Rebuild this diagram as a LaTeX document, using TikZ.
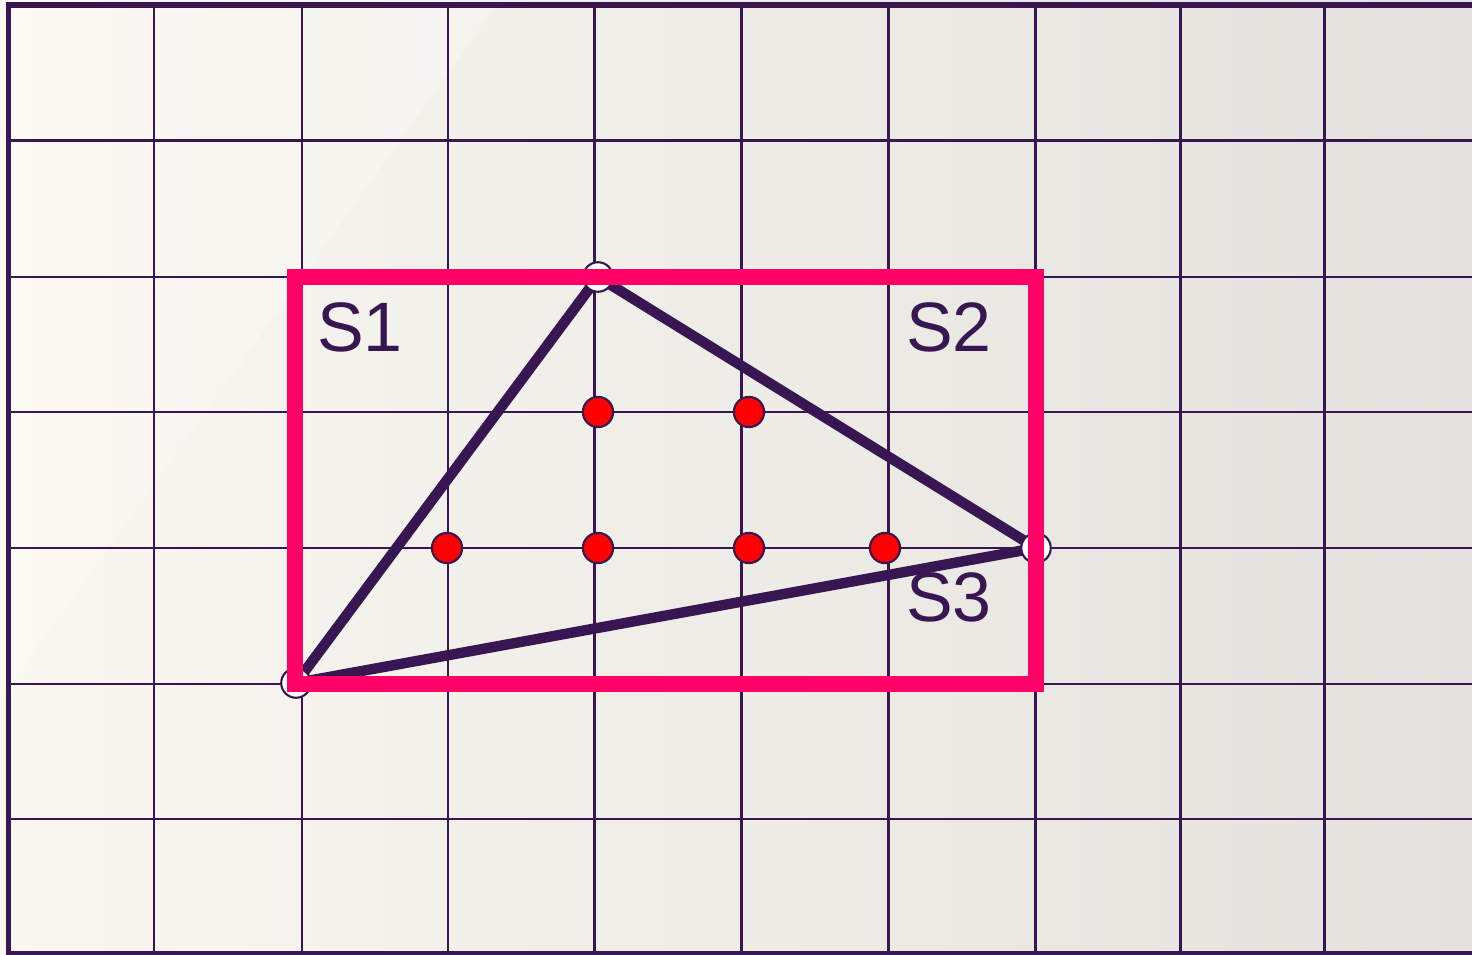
\documentclass[tikz,border=0pt]{standalone}
\usepackage{fontspec}
\setmainfont{Liberation Sans}
\begin{document}
\begin{tikzpicture}[x=0.01cm,y=-0.01cm]
\definecolor{ink}{RGB}{56,22,82}
\definecolor{pinkline}{RGB}{255,0,102}
\definecolor{bgleft}{RGB}{249,247,240}
\definecolor{bgright}{RGB}{227,226,222}
\tikzset{
  gridline/.style={draw=ink,line width=0.85pt},
  frameline/.style={draw=ink,line width=1.45pt},
  triline/.style={draw=ink,line width=2.95pt,line cap=round,line join=round},
  rectline/.style={draw=pinkline,line width=4.3pt},
  vertex/.style={circle,draw=ink,line width=0.6pt,fill=white!97!bgleft,minimum size=8.4pt,inner sep=0pt},
  lattice/.style={circle,draw=ink,line width=0.6pt,fill=red,minimum size=8.6pt,inner sep=0pt},
  lbl/.style={text=ink,font=\fontsize{19.9pt}{22pt}\selectfont,inner sep=0pt}
}
\useasboundingbox (0,0) rectangle (1472,955);
\shade[left color=bgleft,right color=bgright] (0,0) rectangle (1472,955);
\fill[white,opacity=0.25] (0,0) -- (500,0) -- (0,700) -- cycle;
% grid
\foreach \x in {154,302,448,594.5,741.5,888,1035,1180,1324}
  \draw[gridline] (\x,5) -- (\x,955);
\foreach \y in {141,277,412,548,684,819}
  \draw[gridline] (8.5,\y) -- (1472,\y);
% frame
\draw[frameline] (1472,5) -- (8.5,5) -- (8.5,954) -- (1472,954);
% triangle vertices
\coordinate (A) at (296,683);
\coordinate (B) at (598,277);
\coordinate (C) at (1036,548);
\draw[triline] (A) -- (B) -- (C) -- cycle;
\node[vertex] (vA) at (A) {};
\node[vertex] (vB) at (B) {};
\node[vertex] (vC) at (C) {};
% rectangle
\draw[rectline] (295,277) rectangle (1036,684);
% lattice points
\node[lattice] (p1) at (598,412) {};
\node[lattice] (p2) at (749,412) {};
\node[lattice] (p3) at (447,548) {};
\node[lattice] (p4) at (598,548) {};
\node[lattice] (p5) at (749,548) {};
\node[lattice] (p6) at (885,548) {};
% labels
\node[lbl] (s1) at (360,327) {S1};
\node[lbl] (s2) at (949,327) {S2};
\node[lbl] (s3) at (949,597) {S3};
\end{tikzpicture}
\end{document}
